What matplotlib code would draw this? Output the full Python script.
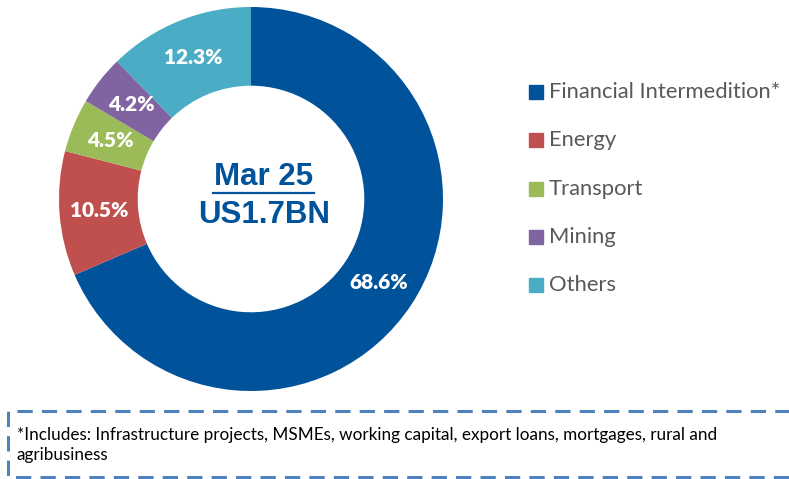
import matplotlib.pyplot as plt
from matplotlib.patches import Rectangle

# data
sectors = ['Financial Intermedition*', 'Energy', 'Transport', 'Mining', 'Others']
shares = [68.6, 10.5, 4.5, 4.2, 12.3]
colors = ['#00539A', '#C0504D', '#9BBB59', '#8064A2', '#4BACC6']
period = 'Mar 25'
total = 'US1.7BN'
note = ('*Includes: Infrastructure projects, MSMEs, working capital, export loans, mortgages, rural and\n'
        'agribusiness')

W, H = 789, 479
fig = plt.figure(figsize=(W / 100, H / 100), dpi=100)
ax = fig.add_axes([0, 0, 1, 1])

cx, cy, R = 251, H - 199, 192
ring = 0.41

wedges, texts, autotexts = ax.pie(
    shares, colors=colors, startangle=90, counterclock=False,
    center=(cx, cy), radius=R, autopct='%.1f%%', pctdistance=1 - ring / 2,
    wedgeprops=dict(width=R * ring, edgecolor='none'),
    textprops=dict(color='white', fontsize=15, fontweight='heavy', family='Lato'))
# show the values as given (they sum to 100.1)
for t, s in zip(autotexts, shares):
    t.set_text(f'{s:.1f}%')

ax.set_xlim(0, W)
ax.set_ylim(0, H)
ax.set_aspect('equal')
ax.axis('off')

# centre text
ax.text(cx + 13, cy + 22, period, ha='center', va='center', fontsize=22.5,
        fontweight='bold', color='#00539A', family='Liberation Sans')
ax.plot([213, 314], [H - 193, H - 193], color='#00539A', lw=1.6)
ax.text(cx + 13, cy - 16, total, ha='center', va='center', fontsize=22.5,
        fontweight='bold', color='#00539A', family='Liberation Sans')

# legend
for i, (lab, col) in enumerate(zip(sectors, colors)):
    y = H - 92 - i * 48.3
    ax.add_patch(Rectangle((529, y - 7), 14, 14, color=col))
    ax.text(549, y, lab, va='center', ha='left', fontsize=15.8,
            color='#595959', family='Lato')

# footnote box
ax.plot([800, 8, 8, 800], [H - 411, H - 411, H - 477, H - 477],
        color='#4F81BD', lw=2.2, linestyle=(0, (5, 3)), clip_on=False)
ax.text(17, H - 445, note, va='center', ha='left', fontsize=12.3,
        color='black', family='Lato', linespacing=1.35)

fig.savefig('out.png', dpi=100)
